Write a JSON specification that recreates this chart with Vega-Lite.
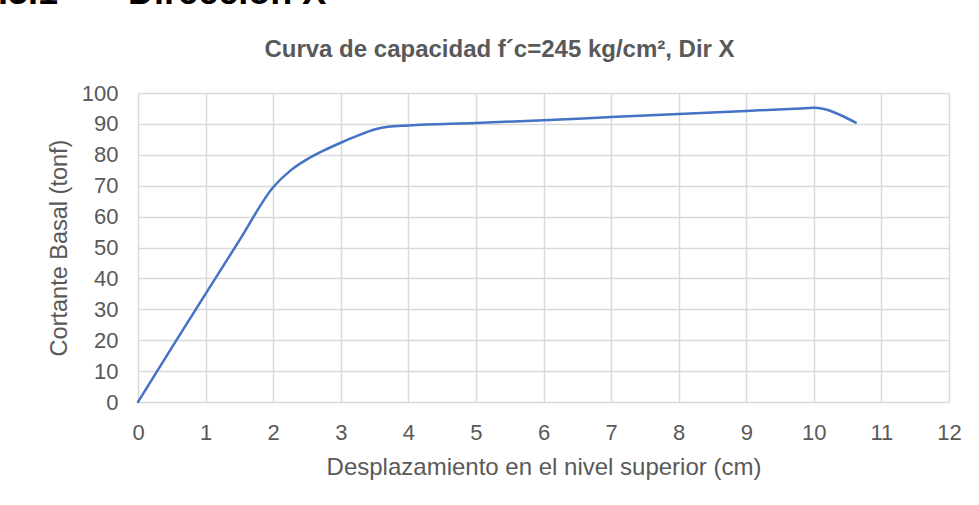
{
  "$schema": "https://vega.github.io/schema/vega-lite/v6.json",
  "autosize": {"type": "none"},
  "padding": {"left": 138, "top": 93, "right": 30, "bottom": 103},
  "width": 811,
  "height": 309,
  "background": "white",
  "config": {
    "view": {"stroke": null},
    "font": "Liberation Sans"
  },
  "title": {
    "text": "4.3.3.1\u00a0\u00a0\u00a0\u00a0\u00a0\u00a0\u00a0Dirección X",
    "frame": "group",
    "anchor": "start",
    "dx": -190,
    "dy": 27,
    "baseline": "alphabetic",
    "offset": 24,
    "font": "Liberation Sans",
    "fontSize": 36,
    "fontWeight": "bold",
    "color": "#000000"
  },
  "data": {
    "values": [
      {"d": 0, "v": 0},
      {"d": 0.5, "v": 17.6},
      {"d": 1, "v": 35.0},
      {"d": 1.5, "v": 52.3},
      {"d": 2, "v": 69.5},
      {"d": 2.25, "v": 74.8},
      {"d": 2.5, "v": 78.5},
      {"d": 2.75, "v": 81.4},
      {"d": 3, "v": 83.9},
      {"d": 3.25, "v": 86.2},
      {"d": 3.5, "v": 88.2},
      {"d": 3.7, "v": 89.1},
      {"d": 4, "v": 89.5},
      {"d": 5, "v": 90.3},
      {"d": 6, "v": 91.2},
      {"d": 7, "v": 92.2},
      {"d": 8, "v": 93.2},
      {"d": 9, "v": 94.2},
      {"d": 9.8, "v": 95.0},
      {"d": 10, "v": 95.2},
      {"d": 10.15, "v": 94.8},
      {"d": 10.4, "v": 92.8},
      {"d": 10.62, "v": 90.4}
    ]
  },
  "resolve": {"axis": {"x": "independent"}},
  "layer": [
    {
      "mark": {"type": "line", "color": "#4472C4", "strokeWidth": 2.5, "strokeJoin": "round", "strokeCap": "round", "interpolate": "monotone"},
      "encoding": {
        "x": {
          "field": "d",
          "type": "quantitative",
          "scale": {"domain": [0, 12], "nice": false, "zero": false},
          "axis": {
            "orient": "bottom",
            "title": "Desplazamiento en el nivel superior (cm)",
            "values": [0, 1, 2, 3, 4, 5, 6, 7, 8, 9, 10, 11, 12],
            "labelFlush": false,
            "labelOverlap": false,
            "ticks": false,
            "domain": false,
            "grid": true,
            "gridColor": "#d9d9d9",
            "gridWidth": 1.5,
            "labelPadding": 20,
            "labelFont": "Liberation Sans",
            "labelFontSize": 22,
            "labelColor": "#595959",
            "titleFont": "Liberation Sans",
            "titleFontSize": 24,
            "titleFontWeight": "normal",
            "titleColor": "#595959",
            "titlePadding": 12
          }
        },
        "y": {
          "field": "v",
          "type": "quantitative",
          "scale": {"domain": [0, 100], "nice": false},
          "axis": {
            "title": "Cortante Basal (tonf)",
            "values": [0, 10, 20, 30, 40, 50, 60, 70, 80, 90, 100],
            "labelFlush": false,
            "labelOverlap": false,
            "ticks": false,
            "domain": false,
            "grid": true,
            "gridColor": "#d9d9d9",
            "gridWidth": 1.5,
            "labelPadding": 20,
            "labelFont": "Liberation Sans",
            "labelFontSize": 22,
            "labelColor": "#595959",
            "titleFont": "Liberation Sans",
            "titleFontSize": 23.5,
            "titleFontWeight": "normal",
            "titleColor": "#595959",
            "titlePadding": 10
          }
        }
      }
    },
    {
      "mark": {"type": "rule", "opacity": 0},
      "encoding": {
        "x": {
          "field": "d",
          "type": "quantitative",
          "axis": {
            "orient": "top",
            "title": "Curva de capacidad f´c=245 kg/cm², Dir X",
            "labels": false,
            "ticks": false,
            "domain": false,
            "grid": false,
            "titleX": 361,
            "titleY": -37,
            "titleAnchor": "middle",
            "titleAlign": "center",
            "titleBaseline": "alphabetic",
            "titleFont": "Liberation Sans",
            "titleFontSize": 24,
            "titleFontWeight": "bold",
            "titleColor": "#595959"
          }
        }
      }
    }
  ]
}
